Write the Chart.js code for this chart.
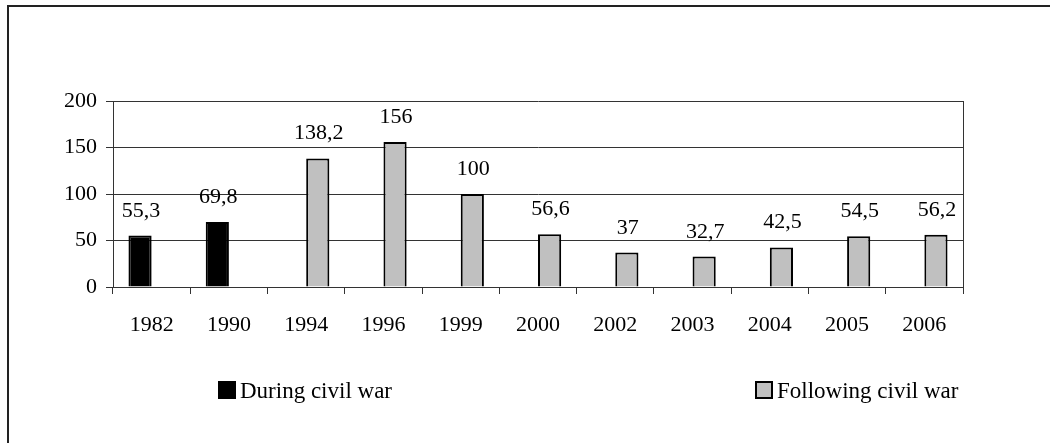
<!DOCTYPE html>
<html>
<head>
<meta charset="utf-8">
<script src="https://cdn.jsdelivr.net/npm/chart.js@4/dist/chart.umd.min.js"></script>
<style>
  html, body { margin: 0; padding: 0; background: #fff; }
  #wrap { position: relative; width: 1050px; height: 443px; overflow: hidden; }
  #frame { position: absolute; left: 7px; top: 5px; width: 1100px; height: 500px;
           border-left: 2px solid #222; border-top: 2px solid #222; }
  canvas { position: absolute; left: 0; top: 0; }
  .legendItem { position: absolute; font-family: "Liberation Serif", serif; font-size: 23px;
                color: #000; white-space: nowrap; }
  .legendItem span.box { display: inline-block; width: 14px; height: 14px; vertical-align: -1px;
                         margin-right: 4px; border: 2px solid #000; }
</style>
</head>
<body>
<div id="wrap">
  <div id="frame"></div>
  <canvas id="chart" width="1050" height="443"></canvas>
  <div class="legendItem" style="left:218px; top:378px;"><span class="box" style="background:#000"></span>During civil war</div>
  <div class="legendItem" style="left:755px; top:378px;"><span class="box" style="background:#c0c0c0"></span>Following civil war</div>
</div>
<script>
// Values
const years = ['1982', '1990', '1994', '1996', '1999', '2000', '2002', '2003', '2004', '2005', '2006'];
const duringWar = [55.3, 69.8, null, null, null, null, null, null, null, null, null];
const afterWar = [null, null, 138.2, 156, 100, 56.6, 37, 32.7, 42.5, 54.5, 56.2];
const yTicks = [0, 50, 100, 150, 200];

const serif = '"Liberation Serif", "Times New Roman", serif';

// draws the value above each bar, with a comma decimal
const barLabels = {
    id: 'barLabels',
    afterDatasetsDraw(chart) {
        const ctx = chart.ctx;
        ctx.save();
        ctx.font = '22px ' + serif;
        ctx.fillStyle = '#000';
        ctx.textAlign = 'center';
        ctx.textBaseline = 'alphabetic';
        chart.data.datasets.forEach((ds, i) => {
            const meta = chart.getDatasetMeta(i);
            meta.data.forEach((bar, j) => {
                const v = ds.data[j];
                if (v === null) return;
                ctx.fillText(String(v).replace('.', ','), bar.x + 1, bar.y - 19);
            });
        });
        ctx.restore();
    }
};

// right edge of the plot area
const plotFrame = {
    id: 'plotFrame',
    beforeDatasetsDraw(chart) {
        const a = chart.chartArea;
        const ctx = chart.ctx;
        ctx.save();
        ctx.strokeStyle = '#333';
        ctx.lineWidth = 1;
        ctx.beginPath();
        ctx.moveTo(Math.round(a.right) + 0.5, a.top);
        ctx.lineTo(Math.round(a.right) + 0.5, a.bottom + 7);
        ctx.stroke();
        ctx.restore();
    }
};

new Chart(document.getElementById('chart'), {
    type: 'bar',
    data: {
        labels: years,
        datasets: [
            {
                label: 'During civil war',
                data: duringWar,
                backgroundColor: '#000',
                borderColor: '#000',
                borderWidth: 2,
                categoryPercentage: 0.6,
                barPercentage: 1
            },
            {
                label: 'Following civil war',
                data: afterWar,
                backgroundColor: '#c0c0c0',
                borderColor: '#000',
                borderWidth: 2,
                categoryPercentage: 0.6,
                barPercentage: 1
            }
        ]
    },
    options: {
        responsive: false,
        animation: false,
        layout: { padding: { left: 0, top: 101, right: 87, bottom: 0 } },
        plugins: {
            legend: { display: false },
            tooltip: { enabled: false }
        },
        scales: {
            x: {
                afterFit: (scale) => { scale.height = 156; },
                grid: {
                    offset: true,
                    drawOnChartArea: false,
                    color: '#333',
                    tickLength: 7
                },
                border: { color: '#333' },
                ticks: {
                    color: '#000',
                    padding: 18,
                    font: { family: serif, size: 22 }
                }
            },
            y: {
                min: 0,
                max: 200,
                afterFit: (scale) => { scale.width = 113; },
                afterBuildTicks: (scale) => { scale.ticks = yTicks.map(v => ({ value: v })); },
                grid: {
                    color: '#333',
                    tickLength: 7
                },
                border: { color: '#333' },
                ticks: {
                    color: '#000',
                    padding: 9,
                    font: { family: serif, size: 22 }
                }
            }
        }
    },
    plugins: [barLabels, plotFrame]
});
</script>
</body>
</html>
